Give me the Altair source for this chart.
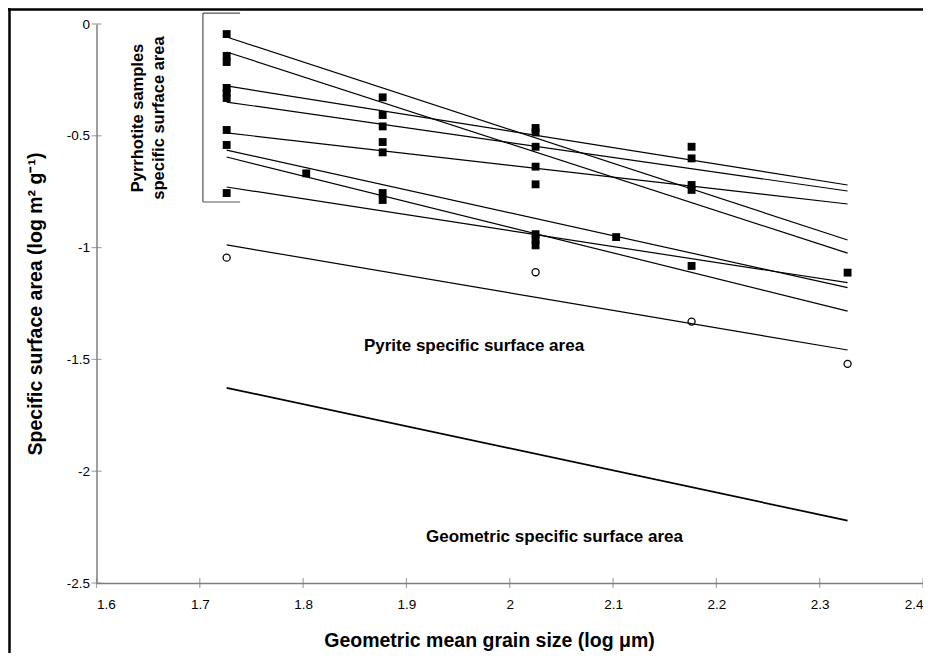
import altair as alt
import pandas as pd

# ---------------- data ----------------
x_ticks = [1.6, 1.7, 1.8, 1.9, 2.0, 2.1, 2.2, 2.3, 2.4]
y_ticks = [0, -0.5, -1, -1.5, -2, -2.5]

# pyrrhotite samples (filled squares)
sq_x = [1.726, 1.726, 1.726, 1.726, 1.726, 1.726, 1.726, 1.726, 1.726,
        1.803,
        1.877, 1.877, 1.877, 1.877, 1.877, 1.877, 1.877,
        2.025, 2.025, 2.025, 2.025, 2.025, 2.025, 2.025, 2.025,
        2.103,
        2.176, 2.176, 2.176, 2.176, 2.176,
        2.327]
sq_y = [-0.045, -0.143, -0.170, -0.286, -0.309, -0.331, -0.474, -0.541, -0.756,
        -0.668,
        -0.328, -0.407, -0.458, -0.528, -0.574, -0.756, -0.787,
        -0.465, -0.485, -0.549, -0.638, -0.717, -0.940, -0.965, -0.990,
        -0.953,
        -0.549, -0.601, -0.720, -0.742, -1.082,
        -1.112]

# pyrite (open circles)
pyrite_x = [1.726, 2.025, 2.176, 2.327]
pyrite_y = [-1.045, -1.110, -1.331, -1.520]

# fitted lines: values at the first and last grain size
fit_x = [1.726, 2.327]
pyrr_fit_start = [-0.058, -0.125, -0.277, -0.349, -0.487, -0.564, -0.595, -0.729]
pyrr_fit_end = [-0.966, -1.025, -0.720, -0.747, -0.805, -1.179, -1.284, -1.157]
pyrite_fit = [-0.988, -1.458]
geom_fit = [-1.627, -2.221]

# bracket around the pyrrhotite samples
bracket_x = [1.703, 1.739]
bracket_y = [0.049, -0.796]

# ---------------- tables ----------------
sq_df = pd.DataFrame({"x": sq_x, "y": sq_y})
py_df = pd.DataFrame({"x": pyrite_x, "y": pyrite_y})
rows = []
for i, (a, b) in enumerate(zip(pyrr_fit_start, pyrr_fit_end)):
    rows.append({"id": f"p{i}", "x": fit_x[0], "y": a})
    rows.append({"id": f"p{i}", "x": fit_x[1], "y": b})
rows.append({"id": "pyrite", "x": fit_x[0], "y": pyrite_fit[0]})
rows.append({"id": "pyrite", "x": fit_x[1], "y": pyrite_fit[1]})
lines_df = pd.DataFrame(rows)
geom_df = pd.DataFrame({"id": ["geom", "geom"], "x": fit_x, "y": geom_fit})
brk_v = pd.DataFrame({"x": [bracket_x[0]], "y": [bracket_y[0]], "y2": [bracket_y[1]]})
brk_h = pd.DataFrame({"x": [bracket_x[0], bracket_x[0]], "x2": [bracket_x[1], bracket_x[1]],
                      "y": bracket_y})
xt_df = pd.DataFrame({"x": x_ticks})
yt_df = pd.DataFrame({"y": y_ticks})
one = pd.DataFrame({"a": [0]})

FONT = "Liberation Sans, Arial, Helvetica, sans-serif"
W, H = 826.5, 559
AXC = "#7f7f7f"

xs = alt.Scale(domain=[1.6, 2.4], nice=False, zero=False)
ys = alt.Scale(domain=[-2.5, 0], nice=False, zero=False)
xaxis = alt.Axis(values=x_ticks, ticks=False, tickSize=0, grid=False,
                 labelExpr="toString(datum.value)", labelPadding=14,
                 labelFontSize=13.5, labelColor="#000", labelFont=FONT,
                 domainColor=AXC, domainWidth=1.5,
                 title="Geometric mean grain size (log μm)",
                 titleFont=FONT, titleFontSize=19.5, titleFontWeight="bold",
                 titleColor="#000", titleX=392.5, titleY=57,
                 titleBaseline="middle", titleAlign="center")
yaxis = alt.Axis(values=y_ticks, ticks=False, tickSize=0, grid=False,
                 labelExpr="toString(datum.value)", labelPadding=7,
                 labelFontSize=13.5, labelColor="#000", labelFont=FONT,
                 domainColor=AXC, domainWidth=1.5,
                 title="Specific surface area (log m² g⁻¹)",
                 titleFont=FONT, titleFontSize=19.5, titleFontWeight="bold",
                 titleColor="#000", titleX=-61.5, titleY=H / 2,
                 titleAngle=270, titleBaseline="middle", titleAlign="center")
X = alt.X("x:Q", scale=xs, axis=xaxis)
Y = alt.Y("y:Q", scale=ys, axis=yaxis)

lines = alt.Chart(lines_df).mark_line(color="black", strokeWidth=1.2).encode(
    x=X, y=Y, detail="id:N")
geom = alt.Chart(geom_df).mark_line(color="black", strokeWidth=1.7).encode(
    x=X, y=Y, detail="id:N")
squares = alt.Chart(sq_df).mark_square(size=62, color="black", opacity=1).encode(x=X, y=Y)
circles = alt.Chart(py_df).mark_point(shape="circle", size=50, filled=False,
                                       color="black", strokeWidth=1.3,
                                       opacity=1).encode(x=X, y=Y)
brk1 = alt.Chart(brk_v).mark_rule(color="#555", strokeWidth=1.2).encode(
    x=X, y=Y, y2="y2:Q")
brk2 = alt.Chart(brk_h).mark_rule(color="#555", strokeWidth=1.2).encode(
    x=X, x2="x2:Q", y=Y)
xt = alt.Chart(xt_df).mark_tick(orient="vertical", size=10, thickness=1.2,
                                color=AXC).encode(x=X, y=alt.value(H))
yt = alt.Chart(yt_df).mark_tick(orient="horizontal", size=10, thickness=1.2,
                                color=AXC).encode(y=Y, x=alt.value(0))

def label(txt, px, py, size=17, angle=0):
    return alt.Chart(one).mark_text(text=txt, font=FONT, fontSize=size,
                                    fontWeight="bold", color="black",
                                    align="center", baseline="middle",
                                    angle=angle, lineHeight=21).encode(
        x=alt.value(px), y=alt.value(py))

t1 = label(["Pyrrhotite samples", "specific surface area"], 41, 94, size=16.5, angle=270)
t2 = label("Pyrite specific surface area", 377.5, 322)
t3 = label("Geometric specific surface area", 458, 513)

frame_top = alt.Chart(one).mark_rule(color="black", strokeWidth=2.5).encode(
    x=alt.value(-88.5), x2=alt.value(W), y=alt.value(-14.5))
frame_left = alt.Chart(one).mark_rule(color="black", strokeWidth=2.5).encode(
    x=alt.value(-87), y=alt.value(-16), y2=alt.value(H + 80))

chart = alt.layer(
    lines, geom, brk1, brk2, xt, yt, squares, circles, t1, t2, t3,
    frame_top, frame_left
).properties(
    width=W, height=H,
    autosize=alt.AutoSizeParams(type="none"),
    padding={"left": 88.5, "top": 16, "right": 0, "bottom": 70},
    background="white",
).configure_view(stroke=None)

chart.save("out.html", embed_options={"renderer": "svg", "actions": False})
